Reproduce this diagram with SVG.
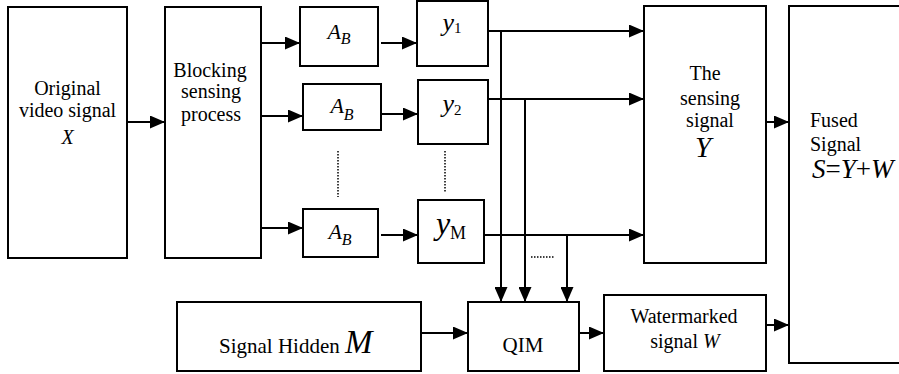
<svg xmlns="http://www.w3.org/2000/svg" width="899" height="374" viewBox="0 0 899 374" font-family="'Liberation Serif', 'Times New Roman', 'DejaVu Serif', serif">
<style>
.box{fill:#fff;stroke:#000;stroke-width:2}
text{font-family:'Liberation Serif','Times New Roman','DejaVu Serif',serif;fill:#000}
.t{font-size:20px}
.c{text-anchor:middle}
.i{font-style:italic}
.ln{fill:none;stroke:#000;stroke-width:2}
.dot{fill:none;stroke:#000;stroke-width:1.5;stroke-dasharray:1.5,1.5}
</style>
<defs>
<marker id="ah" markerUnits="userSpaceOnUse" markerWidth="15" markerHeight="13" refX="15" refY="6.5" orient="auto">
<path d="M0,0 L15,6.5 L0,13 z" fill="#000"/>
</marker>
</defs>
<rect width="899" height="374" fill="#fff"/>
<g id="original">
<rect class="box" x="8" y="7" width="119" height="251"/>
<text class="t c" x="67.5" y="95">Original</text>
<text class="t c" x="67.5" y="117">video signal</text>
<text class="t c i" x="67.5" y="144">X</text>
</g>
<g id="blocking">
<rect class="box" x="165" y="7" width="96" height="251"/>
<text class="t c" x="210" y="77">Blocking</text>
<text class="t c" x="211" y="98">sensing</text>
<text class="t c" x="211" y="121">process</text>
</g>
<g id="ab1">
<rect class="box" x="300" y="7" width="78" height="59"/>
<text class="c" x="339" y="39"><tspan class="i" style="font-size:22px">A</tspan><tspan class="i" style="font-size:16px" dy="5">B</tspan></text>
</g>
<g id="ab2">
<rect class="box" x="303" y="84" width="78" height="46"/>
<text class="c" x="342" y="113"><tspan class="i" style="font-size:22px">A</tspan><tspan class="i" style="font-size:16px" dy="7">B</tspan></text>
</g>
<g id="ab3">
<rect class="box" x="303" y="209" width="75" height="48"/>
<text class="c" x="340" y="239"><tspan class="i" style="font-size:22px">A</tspan><tspan class="i" style="font-size:16px" dy="6">B</tspan></text>
</g>
<g id="y1">
<rect class="box" x="417" y="1" width="71" height="65"/>
<text class="c" x="452" y="31"><tspan class="i" style="font-size:26px">y</tspan><tspan style="font-size:15px" dy="2">1</tspan></text>
</g>
<g id="y2">
<rect class="box" x="418" y="80" width="70" height="64"/>
<text class="c" x="452" y="112"><tspan class="i" style="font-size:26px">y</tspan><tspan style="font-size:15px" dy="3">2</tspan></text>
</g>
<g id="yM">
<rect class="box" x="418" y="200" width="66" height="63"/>
<text class="c" x="451" y="234"><tspan class="i" style="font-size:32px">y</tspan><tspan style="font-size:18px" dy="5">M</tspan></text>
</g>
<g id="sensing">
<rect class="box" x="644" y="6" width="122" height="257"/>
<text class="t c" x="705" y="80">The</text>
<text class="t c" x="710" y="105">sensing</text>
<text class="t c" x="710" y="127">signal</text>
<text class="c i" x="703" y="157" style="font-size:29px">Y</text>
</g>
<g id="fused">
<rect class="box" x="789" y="6" width="115" height="357"/>
<text class="t" x="810" y="127">Fused</text>
<text class="t" x="810" y="151">Signal</text>
<text x="812" y="178" style="font-size:27px"><tspan class="i">S</tspan>=<tspan class="i">Y</tspan>+<tspan class="i">W</tspan></text>
</g>
<g id="hidden">
<rect class="box" x="177" y="302" width="244" height="69"/>
<text x="219" y="353" style="font-size:21px">Signal Hidden <tspan class="i" style="font-size:33px">M</tspan></text>
</g>
<g id="qim">
<rect class="box" x="468" y="302" width="111" height="69"/>
<text class="c" x="523" y="352" style="font-size:21px">QIM</text>
</g>
<g id="watermarked">
<rect class="box" x="604" y="295" width="162" height="76"/>
<text class="t c" x="684" y="323">Watermarked</text>
<text class="t c" x="685" y="348">signal <tspan class="i">W</tspan></text>
</g>
<g id="connectors">
<path class="ln" d="M127,122 H165" marker-end="url(#ah)"/>
<path class="ln" d="M261,43 H300" marker-end="url(#ah)"/>
<path class="ln" d="M262,116 H303" marker-end="url(#ah)"/>
<path class="ln" d="M261,228 H303" marker-end="url(#ah)"/>
<path class="ln" d="M381,43 H417" marker-end="url(#ah)"/>
<path class="ln" d="M381,114 H418" marker-end="url(#ah)"/>
<path class="ln" d="M381,235 H418" marker-end="url(#ah)"/>
<path class="ln" d="M488,31 H644" marker-end="url(#ah)"/>
<path class="ln" d="M488,99 H644" marker-end="url(#ah)"/>
<path class="ln" d="M484,235 H644" marker-end="url(#ah)"/>
<path class="ln" d="M501,31 V302" marker-end="url(#ah)"/>
<path class="ln" d="M525,99 V302" marker-end="url(#ah)"/>
<path class="ln" d="M567,235 V302" marker-end="url(#ah)"/>
<path class="ln" d="M421,333 H468" marker-end="url(#ah)"/>
<path class="ln" d="M579,333 H604" marker-end="url(#ah)"/>
<path class="ln" d="M766,122 H789" marker-end="url(#ah)"/>
<path class="ln" d="M766,325 H789" marker-end="url(#ah)"/>
<path class="dot" d="M338,151 V197"/>
<path class="dot" d="M445,151 V192"/>
<path class="dot" d="M531,257 H554"/>
</g>
</svg>
